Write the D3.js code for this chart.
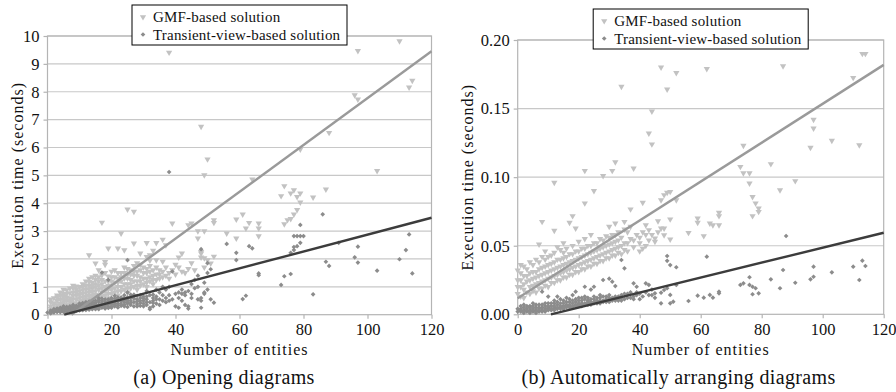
<!DOCTYPE html>
<html>
<head>
<meta charset="utf-8">
<script src="https://cdn.jsdelivr.net/npm/d3@7"></script>
<style>
  html, body { margin: 0; padding: 0; background: #fff; }
  svg text { font-family: 'Liberation Serif', 'DejaVu Serif', serif; fill: #111; }
</style>
</head>
<body>
<svg id="chart" width="896" height="392" font-family="Liberation Serif"></svg>
<script>
// Series labels
const seriesNames = ['GMF-based solution', 'Transient-view-based solution'];
const captions = ['(a) Opening diagrams', '(b) Automatically arranging diagrams'];

// Axis ticks
const xTicks = [0, 20, 40, 60, 80, 100, 120];
const yTicksOpen = [0, 1, 2, 3, 4, 5, 6, 7, 8, 9, 10];
const yTicksArrange = [0, 0.05, 0.10, 0.15, 0.20];

// Trend lines: [slope, intercept]
const gmfOpenFit = [0.084, -0.63];
const transOpenFit = [0.0303, -0.158];
const gmfArrangeFit = [0.001418, 0.0117];
const transArrangeFit = [0.000545, -0.00594];

// (a) Opening diagrams, GMF-based [entities, seconds]
const gmfOpen = [
  [1,0.15],[1,0.3],[1,0.45],[2,0.2],[2,0.35],[2,0.6],[3,0.25],[3,0.5],[3,0.7],
  [4,0.2],[4,0.4],[4,0.55],[4,0.8],[5,0.3],[5,0.45],[5,0.65],[5,0.9],[6,0.25],[6,0.5],[6,0.75],
  [7,0.35],[7,0.6],[7,0.95],[7,0.45],[8,0.3],[8,0.55],[8,0.8],[8,1.05],[9,0.4],[9,0.7],[9,0.9],
  [10,0.35],[10,0.6],[10,0.85],[10,1.0],[11,0.5],[11,0.75],[11,1.0],[11,1.1],
  [12,0.45],[12,0.65],[12,0.9],[12,1.2],[13,0.55],[13,0.8],[13,1.05],[13,1.3],
  [14,0.5],[14,0.7],[14,0.95],[14,1.15],[15,0.6],[15,0.85],[15,1.1],[15,1.4],
  [16,0.55],[16,0.9],[16,1.2],[16,1.6],[17,0.65],[17,0.95],[17,1.25],[18,0.7],[18,1.0],[18,1.5],[18,1.8],
  [19,0.6],[19,0.9],[19,1.2],[20,0.75],[20,1.05],[20,1.35],[21,0.8],[21,1.15],[21,1.6],
  [22,0.7],[22,1.0],[22,1.3],[23,0.85],[23,1.2],[23,1.5],[24,0.9],[24,1.3],[24,1.7],
  [25,0.8],[25,1.1],[25,1.45],[26,0.95],[26,1.25],[26,1.6],[27,1.0],[27,1.4],[27,1.75],
  [28,0.9],[28,1.2],[28,1.55],[29,1.05],[29,1.35],[29,1.8],[30,1.1],[30,1.5],
  [31,1.0],[31,1.3],[31,1.65],[32,1.2],[32,1.55],[32,1.95],[33,1.1],[33,1.4],[34,1.25],[34,1.7],
  [35,1.3],[35,1.6],[37,1.4],[37,1.7],[38,1.5],[40,1.45],[40,1.8],[42,1.55],[44,1.65],
  [1,0.22],[1,0.55],[2,0.42],[2,0.12],[3,0.35],[3,0.62],[4,0.3],[4,0.68],[5,0.38],[5,0.55],[5,0.75],
  [6,0.35],[6,0.62],[6,0.88],[7,0.52],[7,0.78],[7,0.25],[8,0.42],[8,0.68],[8,0.95],[9,0.3],[9,0.55],
  [9,0.8],[9,1.02],[10,0.48],[10,0.72],[11,0.4],[11,0.62],[11,0.88],[12,0.55],[12,0.78],[12,1.05],
  [13,0.68],[13,0.92],[13,1.18],[14,0.6],[14,0.82],[14,1.05],[14,1.35],[15,0.72],[15,0.98],[15,1.25],
  [16,0.68],[16,1.05],[16,1.35],[17,0.8],[17,1.1],[17,1.42],[18,0.85],[18,1.2],[19,0.75],[19,1.05],
  [19,1.38],[20,0.9],[20,1.2],[20,1.55],[21,0.95],[21,1.35],[22,0.85],[22,1.15],[22,1.5],[23,1.0],
  [23,1.35],[24,1.1],[24,1.5],[25,0.95],[25,1.3],[25,1.65],[26,1.1],[26,1.45],[27,1.2],[27,1.55],
  [28,1.05],[28,1.4],[28,1.85],[29,1.2],[29,1.6],[30,1.3],[30,1.7],[31,1.15],[31,1.5],[32,1.35],
  [32,1.75],[33,1.25],[33,1.6],[34,1.45],[35,1.45],[36,1.55],[36,1.35],[38,1.3],[39,1.6],[41,1.7],
  [43,1.5],[45,1.85],[46,1.6],
  [38,9.41],[48,6.75],[50,5.58],[49,5.01],[64,4.86],[97,9.47],[110,9.82],[96,7.88],[97,7.73],
  [114,8.4],[113,8.16],[88,6.53],[103,5.16],[79,5.93],[87,4.5],[74,4.62],[73,4.26],[76,4.36],
  [77,4.47],[78,4.23],[79,4.36],[83,4.21],[79,4.03],[78,3.76],[77,3.6],[76,3.44],[74,3.25],
  [75,3.4],[63,3.3],[66,3.28],[66,3.1],[66,2.82],[59,3.42],[61,3.6],[62,3.1],[59,2.74],
  [56,2.92],[52,3.4],[52,3.3],[47,2.74],[47,3.0],[49,3.0],[45,3.28],[44,3.22],[39,3.28],
  [37,2.5],[34,2.58],[25,3.78],[27,3.7],[17,3.31],[23,2.92],[27,2.56],[22,2.38],[19,2.38],
  [24,2.32],[13,2.14],[15,1.84],[18,1.9],[42,2.2],[41,2.06],[36,1.91],[32,2.14],[31,2.08],
  [48,2.2],[48,2.06],[50,1.96],[51,1.84],[52,2.09],[48,2.26],[49,2.03],[49,1.7],
  [31,2.58],[29,2.2],[33,2.3],[36,2.7],[34,1.96]
];

// (a) Opening diagrams, transient-view-based
const transOpen = [
  [1,0.05],[1,0.1],[1,0.15],[2,0.08],[2,0.14],[2,0.2],[3,0.1],[3,0.18],[3,0.12],
  [4,0.12],[4,0.2],[4,0.25],[5,0.1],[5,0.15],[5,0.22],[5,0.3],[6,0.14],[6,0.2],[6,0.28],
  [7,0.12],[7,0.22],[7,0.3],[7,0.18],[8,0.15],[8,0.25],[8,0.35],[9,0.18],[9,0.24],[9,0.32],
  [10,0.15],[10,0.2],[10,0.3],[10,0.4],[11,0.2],[11,0.28],[11,0.36],
  [12,0.17],[12,0.25],[12,0.33],[12,0.45],[13,0.22],[13,0.3],[13,0.4],
  [14,0.2],[14,0.27],[14,0.38],[14,0.5],[15,0.24],[15,0.33],[15,0.42],
  [16,0.2],[16,0.3],[16,0.46],[16,0.6],[17,0.25],[17,0.35],[17,0.5],[18,0.22],[18,0.4],[18,0.55],
  [19,0.28],[19,0.36],[19,0.48],[20,0.25],[20,0.45],[20,0.6],[21,0.3],[21,0.5],[21,0.68],
  [22,0.26],[22,0.4],[22,0.55],[23,0.32],[23,0.48],[23,0.62],[24,0.3],[24,0.45],[24,0.7],
  [25,0.28],[25,0.52],[25,0.62],[25,0.8],[26,0.35],[26,0.5],[27,0.3],[27,0.58],[27,0.72],
  [28,0.38],[28,0.55],[29,0.32],[29,0.6],[29,0.42],[30,0.4],[30,0.65],[30,0.5],
  [31,0.35],[31,0.55],[32,0.2],[32,0.45],[32,0.7],[32,0.25],[33,0.5],[33,0.6],[33,0.3],
  [34,0.4],[34,0.65],[35,0.55],[35,0.8],[35,0.35],[37,0.45],[37,0.9],[37,0.6],
  [38,0.5],[38,0.7],[38,1.0],[39,0.55],[39,1.55],[40,0.3],[40,0.75],[41,0.25],[41,0.8],[41,0.6],
  [42,0.5],[42,0.9],[42,0.75],[43,0.7],[43,0.35],[43,0.8],[44,0.3],[44,0.85],[44,0.22],
  [45,0.6],[45,0.75],[45,1.1],[46,0.95],[46,1.25],[47,0.55],[47,1.0],[47,1.4],
  [48,0.25],[48,0.5],[48,0.6],[48,2.35],[49,0.75],[49,0.8],[49,1.15],[50,0.9],[50,1.5],[50,1.85],
  [51,1.63],[51,0.55],[52,0.43],
  [0,0.08],[1,0.08],[2,0.11],[2,0.17],[3,0.15],[3,0.22],[4,0.16],[4,0.09],[5,0.18],[5,0.26],
  [6,0.1],[6,0.17],[6,0.24],[7,0.15],[7,0.26],[8,0.12],[8,0.2],[8,0.3],[9,0.14],[9,0.21],[9,0.28],
  [10,0.18],[10,0.25],[10,0.35],[11,0.16],[11,0.24],[11,0.32],[11,0.42],[12,0.21],[12,0.29],[12,0.38],
  [13,0.18],[13,0.26],[13,0.35],[13,0.47],[14,0.23],[14,0.33],[14,0.44],[15,0.2],[15,0.28],[15,0.37],
  [15,0.5],[16,0.25],[16,0.35],[16,0.52],[17,0.3],[17,0.42],[17,0.58],[18,0.28],[18,0.34],[18,0.48],
  [19,0.24],[19,0.42],[19,0.55],[20,0.3],[20,0.38],[20,0.52],[21,0.36],[21,0.42],[21,0.58],[22,0.33],
  [22,0.48],[22,0.62],[23,0.38],[23,0.55],[24,0.36],[24,0.52],[24,0.6],[25,0.4],[25,0.45],[26,0.42],
  [26,0.6],[26,0.72],[27,0.45],[27,0.65],[28,0.3],[28,0.48],[28,0.68],[29,0.5],[29,0.7],[30,0.3],
  [30,0.58],[31,0.45],[31,0.65],[31,0.85],[33,0.42],[33,0.72],[34,0.55],[34,0.9],[36,0.5],[36,0.7],[36,1.0],
  [25,1.96],[17,1.51],[19,1.25],[38,5.12],[56,2.54],[59,2.22],[59,1.96],[63,2.46],[64,2.38],
  [66,1.48],[66,1.42],[62,0.68],[61,0.56],[73,1.07],[74,1.38],[76,1.46],[77,2.43],
  [77,2.82],[78,2.82],[79,2.82],[80,2.82],[79,3.22],[79,2.58],[78,2.46],[77,2.32],[76,2.22],
  [86,3.6],[87,1.9],[88,1.75],[83,0.73],[91,2.58],[97,2.44],[96,2.06],[97,1.87],[103,1.58],
  [110,1.99],[112,2.32],[113,2.88],[114,1.48]
];

// (b) Automatically arranging diagrams, GMF-based
const gmfArrange = [
  [0,0.015],[0,0.025],[1,0.013],[1,0.02],[1,0.03],[2,0.018],[2,0.028],[3,0.016],[3,0.024],[3,0.033],
  [4,0.02],[4,0.03],[5,0.017],[5,0.026],[5,0.036],[6,0.022],[6,0.031],
  [7,0.019],[7,0.028],[7,0.038],[7,0.051],[8,0.024],[8,0.034],[8,0.0675],[9,0.021],[9,0.03],[9,0.04],
  [10,0.026],[10,0.036],[11,0.023],[11,0.032],[11,0.043],[12,0.028],[12,0.038],[12,0.061],[12,0.096],
  [13,0.025],[13,0.034],[13,0.049],[14,0.03],[14,0.04],[15,0.027],[15,0.036],[15,0.045],
  [16,0.032],[16,0.042],[17,0.029],[17,0.038],[17,0.0668],[18,0.034],[18,0.044],[18,0.0717],
  [19,0.031],[19,0.04],[19,0.0627],[20,0.036],[20,0.046],[21,0.033],[21,0.042],
  [22,0.038],[22,0.048],[22,0.081],[22,0.1047],[23,0.035],[23,0.044],[24,0.04],[24,0.05],
  [25,0.037],[25,0.046],[25,0.09],[26,0.042],[26,0.052],[27,0.039],[27,0.048],
  [28,0.044],[28,0.054],[28,0.101],[29,0.041],[29,0.05],[30,0.046],[30,0.056],[30,0.0639],
  [31,0.043],[31,0.052],[31,0.1047],[32,0.048],[32,0.058],[32,0.111],[32,0.0663],[33,0.045],[33,0.054],
  [34,0.05],[34,0.166],[35,0.047],[35,0.0675],[36,0.052],[36,0.06],[37,0.0766],[38,0.054],[38,0.1064],
  [40,0.056],[40,0.046],[41,0.0814],[41,0.06],[42,0.05],[42,0.065],[43,0.0615],[43,0.132],
  [44,0.148],[44,0.124],[44,0.058],[45,0.0554],[45,0.053],[47,0.0627],[47,0.18],[47,0.0833],
  [48,0.087],[48,0.0578],[48,0.0627],[49,0.164],[49,0.0887],[50,0.0894],[50,0.0693],[50,0.0547],
  [0,0.02],[0,0.032],[1,0.025],[1,0.036],[2,0.012],[2,0.022],[2,0.035],[3,0.028],[4,0.015],[4,0.025],
  [4,0.038],[5,0.021],[5,0.031],[6,0.016],[6,0.027],[6,0.04],[7,0.023],[7,0.033],[8,0.019],[8,0.029],
  [8,0.042],[9,0.025],[9,0.035],[9,0.046],[10,0.02],[10,0.031],[10,0.042],[11,0.027],[11,0.037],
  [12,0.023],[12,0.033],[12,0.045],[13,0.029],[13,0.04],[14,0.025],[14,0.035],[14,0.047],[15,0.031],
  [15,0.041],[15,0.052],[16,0.027],[16,0.037],[16,0.048],[17,0.033],[17,0.044],[18,0.029],[18,0.039],
  [18,0.05],[19,0.035],[19,0.046],[20,0.031],[20,0.041],[20,0.053],[21,0.037],[21,0.048],[22,0.033],
  [22,0.043],[22,0.055],[23,0.039],[23,0.05],[24,0.035],[24,0.045],[24,0.058],[25,0.041],[25,0.052],
  [26,0.037],[26,0.047],[27,0.043],[27,0.055],[28,0.039],[28,0.049],[29,0.045],[29,0.057],[30,0.041],
  [30,0.051],[31,0.047],[31,0.058],[32,0.043],[32,0.053],[33,0.049],[33,0.06],[34,0.044],[34,0.056],
  [35,0.052],[35,0.062],[36,0.046],[37,0.055],[37,0.064],[38,0.049],[39,0.058],[40,0.052],[41,0.048],
  [42,0.058],[43,0.054],[46,0.06],[46,0.068],
  [52,0.176],[52,0.0833],[62,0.179],[74,0.123],[73,0.1076],[74,0.103],[76,0.103],[76,0.0955],
  [77,0.0857],[78,0.081],[79,0.0773],[79,0.0748],[77,0.0717],[83,0.1096],[86,0.0906],[87,0.181],
  [91,0.0972],[96,0.1215],[97,0.142],[97,0.1356],[103,0.1266],[110,0.1725],[112,0.1234],
  [113,0.19],[114,0.19],[59,0.07],[59,0.0668],[56,0.0595],[61,0.0571],[63,0.0663],[64,0.0651],
  [66,0.0651],[66,0.0741],[66,0.0717]
];

// (b) Automatically arranging diagrams, transient-view-based
const transArrange = [
  [1,0.002],[1,0.004],[2,0.001],[2,0.003],[2,0.005],[3,0.002],[3,0.004],[4,0.001],[4,0.003],[4,0.006],
  [5,0.002],[5,0.004],[6,0.003],[6,0.005],[6,0.001],[7,0.002],[7,0.004],[7,0.007],
  [8,0.003],[8,0.005],[8,0.0165],[9,0.002],[9,0.004],[9,0.006],[10,0.003],[10,0.005],[10,0.008],[10,0.0129],
  [11,0.004],[11,0.006],[12,0.003],[12,0.005],[12,0.008],[13,0.004],[13,0.007],[13,0.0129],
  [14,0.005],[14,0.008],[15,0.004],[15,0.006],[15,0.01],[16,0.005],[16,0.007],[16,0.012],
  [17,0.006],[17,0.009],[18,0.005],[18,0.008],[18,0.014],[19,0.006],[19,0.0165],[19,0.009],
  [20,0.007],[20,0.01],[21,0.006],[21,0.008],[21,0.012],[22,0.007],[22,0.0201],[22,0.011],
  [23,0.008],[23,0.01],[24,0.007],[24,0.009],[24,0.018],[25,0.008],[25,0.0201],[25,0.011],
  [26,0.009],[26,0.012],[27,0.008],[27,0.01],[27,0.014],[28,0.009],[28,0.025],[29,0.01],[29,0.013],
  [30,0.009],[30,0.026],[30,0.012],[31,0.01],[31,0.0238],[32,0.011],[32,0.0206],[33,0.01],[33,0.013],
  [34,0.0396],[34,0.012],[35,0.0335],[35,0.011],[35,0.015],[37,0.012],[37,0.016],
  [38,0.0226],[38,0.013],[39,0.0201],[39,0.014],[40,0.015],[40,0.011],[42,0.0226],[42,0.016],
  [43,0.0214],[43,0.014],[44,0.018],[45,0.0153],[45,0.012],[47,0.0158],[47,0.008],[48,0.0177],
  [49,0.0425],[49,0.039],[49,0.019],[50,0.0359],[50,0.0141],[50,0.008],[51,0.0092],[52,0.0343],[52,0.0214],
  [0,0.002],[0,0.004],[1,0.003],[1,0.006],[2,0.002],[2,0.007],[3,0.003],[3,0.006],[4,0.002],[4,0.005],
  [5,0.003],[5,0.006],[5,0.008],[6,0.002],[6,0.007],[7,0.003],[7,0.005],[8,0.002],[8,0.007],[9,0.003],
  [9,0.008],[10,0.004],[10,0.006],[11,0.003],[11,0.008],[12,0.004],[12,0.006],[12,0.01],[13,0.005],
  [13,0.009],[14,0.004],[14,0.006],[14,0.011],[15,0.005],[15,0.008],[16,0.006],[16,0.009],[17,0.005],
  [17,0.007],[17,0.011],[18,0.006],[18,0.01],[19,0.007],[19,0.011],[20,0.006],[20,0.008],[20,0.012],
  [21,0.007],[21,0.01],[22,0.008],[22,0.013],[23,0.007],[23,0.009],[23,0.012],[24,0.008],[24,0.011],
  [25,0.009],[25,0.013],[26,0.008],[26,0.01],[27,0.009],[27,0.012],[28,0.01],[28,0.013],[29,0.009],
  [29,0.011],[30,0.01],[30,0.014],[31,0.012],[32,0.01],[32,0.013],[33,0.011],[34,0.01],[34,0.014],
  [36,0.012],[36,0.015],[38,0.011],[39,0.016],[41,0.013],[44,0.014],
  [56,0.0097],[59,0.0136],[61,0.0121],[62,0.042],[63,0.0141],[64,0.0121],[66,0.0165],[66,0.0153],
  [73,0.0214],[74,0.0226],[76,0.027],[76,0.0214],[77,0.0201],[78,0.019],[79,0.0153],[77,0.0146],
  [83,0.0255],[86,0.019],[87,0.0323],[88,0.0571],[91,0.023],[96,0.0255],[97,0.0274],[97,0.0347],
  [103,0.0306],[110,0.0347],[112,0.025],[113,0.0391],[114,0.0352]
];

const FONT = "'Liberation Serif', 'DejaVu Serif', serif";
const GMFFILL = '#c2c2c2';
const TRANSFILL = '#8c8c8c';
const GMFLINE = '#9a9a9a';
const TRANSLINE = '#3c3c3c';
const GRIDCOLOR = '#c8c8c8';
const FRAMECOLOR = '#b4b4b4';

const svg = d3.select('#chart');
const triangle = d3.symbol().type(d3.symbolTriangle).size(17);
const diamond = d3.symbol().type(d3.symbolSquare).size(11);

/**
 * Draws one scatter panel with its trend lines and legend.
 */
function drawPanel(p) {
  const x = d3.scaleLinear().domain([0, 120]).range([p.left, p.right]);
  const y = d3.scaleLinear().domain([0, p.yMax]).range([p.bottom, p.top]);
  const g = svg.append('g').attr('font-family', FONT);

  // Grid lines
  g.append('g').selectAll('line')
    .data(p.yTicks.slice(1))
    .join('line')
    .attr('x1', p.left).attr('x2', p.right)
    .attr('y1', d => y(d)).attr('y2', d => y(d))
    .attr('stroke', GRIDCOLOR).attr('stroke-width', 1.2);

  // Frame
  g.append('rect')
    .attr('x', p.left).attr('y', p.top)
    .attr('width', p.right - p.left).attr('height', p.bottom - p.top)
    .attr('fill', 'none').attr('stroke', FRAMECOLOR).attr('stroke-width', 1.2);

  // Axes
  const xAxis = d3.axisBottom(x).tickValues(xTicks).tickSize(4).tickPadding(5).tickFormat(d3.format('d'));
  const yAxis = d3.axisLeft(y).tickValues(p.yTicks).tickSize(4).tickPadding(4).tickFormat(p.fmt);
  [g.append('g').attr('transform', `translate(0,${p.bottom})`).call(xAxis),
   g.append('g').attr('transform', `translate(${p.left},0)`).call(yAxis)].forEach(a => {
    a.attr('font-family', FONT);
    a.select('.domain').remove();
    a.selectAll('.tick line').attr('stroke', FRAMECOLOR).attr('stroke-width', 1.2);
    a.selectAll('.tick text').attr('font-size', 16.5).attr('fill', '#111');
  });

  // Points
  g.append('g').selectAll('path')
    .data(p.gmf)
    .join('path')
    .attr('d', triangle)
    .attr('transform', d => `translate(${x(d[0])},${y(d[1])}) rotate(180)`)
    .attr('fill', GMFFILL);
  g.append('g').selectAll('path')
    .data(p.trans)
    .join('path')
    .attr('d', diamond)
    .attr('transform', d => `translate(${x(d[0])},${y(d[1])}) rotate(45)`)
    .attr('fill', TRANSFILL);

  // Trend lines, clipped at zero
  [[p.gmfFit, GMFLINE], [p.transFit, TRANSLINE]].forEach(([fit, color]) => {
    const x0 = Math.max(0, -fit[1] / fit[0]);
    const pts = [x0, 120].map(v => [x(v), y(fit[0] * v + fit[1])]);
    g.append('path')
      .attr('d', d3.line()(pts))
      .attr('stroke', color).attr('stroke-width', 2.4).attr('fill', 'none');
  });

  // Axis titles
  g.append('text')
    .attr('x', (p.left + p.right) / 2).attr('y', 355)
    .attr('text-anchor', 'middle').attr('font-size', 16).attr('letter-spacing', 1)
    .text('Number of entities');
  g.append('text')
    .attr('transform', `translate(${p.yTitleX},${(p.top + p.bottom) / 2}) rotate(-90)`)
    .attr('text-anchor', 'middle').attr('font-size', 16).attr('letter-spacing', 1)
    .text('Execution time (seconds)');

  // Caption
  g.append('text')
    .attr('x', p.captionX).attr('y', 384)
    .attr('text-anchor', 'middle').attr('font-size', 20).attr('letter-spacing', 0.35)
    .text(p.caption);

  // Legend
  const lw = 215, lh = 40;
  const lx = (p.left + p.right) / 2 - lw / 2, ly = p.top - 31;
  const legend = g.append('g').attr('transform', `translate(${lx},${ly})`);
  legend.append('rect')
    .attr('width', lw).attr('height', lh)
    .attr('fill', '#fff').attr('stroke', '#000').attr('stroke-width', 1);
  const rows = legend.selectAll('g.row')
    .data(seriesNames)
    .join('g')
    .attr('class', 'row')
    .attr('transform', (d, i) => `translate(0,${12 + i * 17.5})`);
  rows.append('path')
    .attr('d', (d, i) => i === 0 ? triangle() : diamond())
    .attr('transform', (d, i) => `translate(11,0) rotate(${i === 0 ? 180 : 45})`)
    .attr('fill', (d, i) => i === 0 ? GMFFILL : TRANSFILL);
  rows.append('text')
    .attr('x', 21).attr('y', 5)
    .attr('font-size', 15).attr('letter-spacing', 0.2)
    .text(d => d);
}

drawPanel({
  left: 47.5, right: 431.5, top: 36, bottom: 314.7,
  yMax: 10, yTicks: yTicksOpen, fmt: d3.format('d'),
  gmf: gmfOpen, trans: transOpen, gmfFit: gmfOpenFit, transFit: transOpenFit,
  yTitleX: 23, captionX: 224, caption: captions[0]
});

drawPanel({
  left: 517.7, right: 883.7, top: 40, bottom: 314.3,
  yMax: 0.2, yTicks: yTicksArrange, fmt: d3.format('.2f'),
  gmf: gmfArrange, trans: transArrange, gmfFit: gmfArrangeFit, transFit: transArrangeFit,
  yTitleX: 473, captionX: 678.5, caption: captions[1]
});
</script>
</body>
</html>
